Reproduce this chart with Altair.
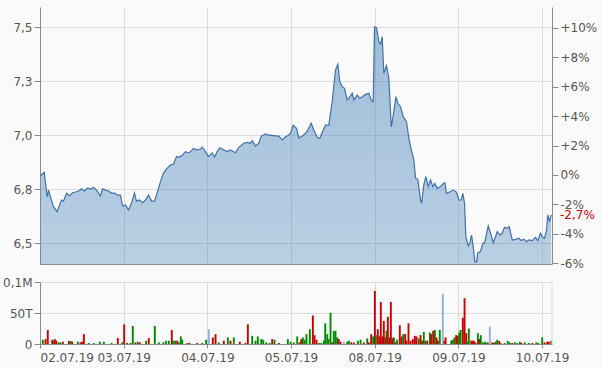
import altair as alt
import pandas as pd

# ---------------- data ----------------
DATES = ["02.07.19", "03.07.19", "04.07.19", "05.07.19", "08.07.19", "09.07.19", "10.07.19"]
REF_PRICE = 6.815  # previous close (0 %)

# intraday time in trading-day units, and price
T = [0.006, 0.018, 0.050, 0.086, 0.102, 0.125, 0.161, 0.206, 0.221, 0.257, 0.281, 0.317, 0.353, 0.388,
     0.424, 0.460, 0.496, 0.532, 0.568, 0.604, 0.639, 0.675, 0.723, 0.747, 0.783, 0.819, 0.855, 0.890,
     0.926, 0.962, 0.986, 1.022, 1.058, 1.094, 1.129, 1.153, 1.189, 1.225, 1.261, 1.297, 1.333, 1.369,
     1.404, 1.440, 1.476, 1.512, 1.560, 1.596, 1.632, 1.667, 1.703, 1.739, 1.775, 1.799, 1.835, 1.871,
     1.918, 1.939, 1.978, 2.014, 2.058, 2.086, 2.118, 2.149, 2.197, 2.237, 2.277, 2.337, 2.376, 2.436,
     2.476, 2.516, 2.536, 2.576, 2.615, 2.644, 2.695, 2.735, 2.794, 2.854, 2.895, 2.934, 2.974, 2.994,
     3.026, 3.066, 3.093, 3.134, 3.173, 3.201, 3.241, 3.272, 3.313, 3.344, 3.373, 3.412, 3.452, 3.492,
     3.532, 3.560, 3.583, 3.612, 3.639, 3.672, 3.703, 3.731, 3.751, 3.791, 3.822, 3.851, 3.891, 3.930,
     3.958, 3.982, 3.998, 4.022, 4.049, 4.070, 4.090, 4.109, 4.141, 4.169, 4.198, 4.229, 4.253, 4.277,
     4.309, 4.341, 4.380, 4.408, 4.437, 4.468, 4.488, 4.515, 4.548, 4.560, 4.587, 4.611, 4.640, 4.667,
     4.695, 4.719, 4.747, 4.787, 4.814, 4.838, 4.858, 4.898, 4.939, 4.978, 5.006, 5.034, 5.053, 5.074,
     5.089, 5.118, 5.137, 5.157, 5.178, 5.197, 5.217, 5.233, 5.265, 5.292, 5.313, 5.333, 5.357, 5.384,
     5.417, 5.444, 5.464, 5.496, 5.524, 5.552, 5.584, 5.608, 5.644, 5.683, 5.723, 5.751, 5.782, 5.815,
     5.842, 5.883, 5.922, 5.950, 5.982, 6.002, 6.030, 6.054, 6.069, 6.090, 6.110]
PRICE = [6.810, 6.815, 6.827, 6.714, 6.745, 6.713, 6.668, 6.645, 6.662, 6.699, 6.694, 6.730, 6.718, 6.733,
         6.736, 6.741, 6.751, 6.741, 6.755, 6.750, 6.758, 6.745, 6.718, 6.751, 6.745, 6.741, 6.731, 6.731,
         6.722, 6.722, 6.671, 6.676, 6.653, 6.685, 6.731, 6.694, 6.699, 6.687, 6.699, 6.722, 6.694, 6.694,
         6.737, 6.784, 6.824, 6.843, 6.861, 6.866, 6.900, 6.898, 6.907, 6.923, 6.917, 6.923, 6.938, 6.931,
         6.935, 6.944, 6.923, 6.900, 6.917, 6.898, 6.923, 6.941, 6.931, 6.923, 6.931, 6.918, 6.943, 6.962,
         6.966, 6.962, 6.974, 6.949, 6.962, 6.995, 7.005, 6.999, 6.997, 6.995, 6.977, 6.992, 7.000, 7.008,
         7.045, 7.031, 6.986, 6.995, 7.008, 7.023, 7.054, 7.023, 6.988, 6.985, 7.013, 7.046, 7.046, 7.154,
         7.301, 7.327, 7.247, 7.224, 7.216, 7.162, 7.177, 7.193, 7.162, 7.185, 7.170, 7.177, 7.188, 7.193,
         7.162, 7.154, 7.501, 7.497, 7.432, 7.420, 7.455, 7.286, 7.321, 7.263, 7.038, 7.108, 7.177, 7.147,
         7.131, 7.085, 7.062, 6.985, 6.931, 6.885, 6.800, 6.795, 6.699, 6.684, 6.769, 6.807, 6.761, 6.792,
         6.761, 6.776, 6.753, 6.761, 6.773, 6.779, 6.730, 6.737, 6.745, 6.736, 6.699, 6.699, 6.730, 6.684,
         6.529, 6.486, 6.499, 6.537, 6.483, 6.413, 6.413, 6.455, 6.460, 6.499, 6.499, 6.537, 6.579, 6.545,
         6.501, 6.529, 6.552, 6.537, 6.545, 6.573, 6.568, 6.575, 6.514, 6.517, 6.522, 6.511, 6.517, 6.506,
         6.514, 6.511, 6.526, 6.511, 6.545, 6.529, 6.522, 6.560, 6.630, 6.599, 6.630]

# volume bars: time, volume (shares), direction (r = down, g = up, b = neutral)
VOL_T = [0.033, 0.066, 0.093, 0.146, 0.165, 0.177, 0.197, 0.225, 0.245, 0.273, 0.344, 0.365, 0.385, 0.452,
         0.484, 0.504, 0.524, 0.583, 0.643, 0.715, 0.763, 0.855, 0.930, 0.982, 1.006, 1.042, 1.082, 1.109,
         1.141, 1.169, 1.193, 1.269, 1.300, 1.372, 1.420, 1.473, 1.504, 1.539, 1.575, 1.592, 1.616, 1.640,
         1.659, 1.683, 1.700, 1.759, 1.787, 1.879, 1.939, 1.986, 2.018, 2.065, 2.098, 2.137, 2.197, 2.245,
         2.277, 2.316, 2.388, 2.456, 2.484, 2.536, 2.576, 2.603, 2.644, 2.668, 2.704, 2.743, 2.775, 2.803,
         2.854, 2.962, 2.994, 3.033, 3.074, 3.102, 3.122, 3.141, 3.161, 3.185, 3.225, 3.261, 3.281, 3.305,
         3.332, 3.361, 3.392, 3.409, 3.433, 3.448, 3.472, 3.492, 3.511, 3.532, 3.552, 3.571, 3.592, 3.631,
         3.672, 3.691, 3.719, 3.751, 3.798, 3.831, 3.870, 3.911, 3.930, 3.958, 3.982, 4.002, 4.014, 4.037,
         4.058, 4.073, 4.094, 4.109, 4.129, 4.141, 4.157, 4.181, 4.193, 4.213, 4.229, 4.249, 4.269, 4.300,
         4.321, 4.341, 4.365, 4.380, 4.404, 4.428, 4.456, 4.480, 4.500, 4.527, 4.548, 4.568, 4.587, 4.607,
         4.628, 4.659, 4.675, 4.699, 4.719, 4.739, 4.755, 4.778, 4.814, 4.835, 4.847, 4.915, 4.934, 4.954,
         4.974, 4.993, 5.010, 5.026, 5.053, 5.074, 5.094, 5.106, 5.125, 5.154, 5.169, 5.185, 5.205, 5.233,
         5.249, 5.268, 5.292, 5.316, 5.337, 5.352, 5.376, 5.405, 5.424, 5.444, 5.464, 5.488, 5.504, 5.552,
         5.591, 5.615, 5.644, 5.675, 5.704, 5.735, 5.755, 5.794, 5.842, 5.883, 5.931, 5.954, 6.002, 6.030,
         6.062, 6.081, 6.110]
VOL = [6900, 7900, 22700, 6900, 5300, 7900, 5300, 2600, 2600, 3700, 4800, 4800, 3700, 3700,
       2600, 3700, 15900, 1600, 1600, 3700, 3700, 1600, 9500, 2600, 31700, 1600, 1600, 29100,
       2600, 3700, 2600, 5300, 9500, 29100, 2600, 2600, 5300, 5300, 22700, 5300, 5300, 5300,
       2600, 12200, 6900, 1600, 1600, 1600, 1600, 6900, 23800, 10600, 15900, 2600, 5300, 10600,
       5300, 10600, 3700, 1600, 31700, 13200, 5300, 12200, 7900, 6900, 2600, 1600, 7900, 6900,
       1600, 7900, 3700, 2600, 12200, 2600, 7900, 10600, 6900, 15900, 23800, 46000, 14300, 6900,
       1600, 1600, 5300, 33300, 15900, 7900, 50300, 2600, 21200, 21200, 10600, 7900, 3700, 3700,
       3700, 5300, 2600, 2600, 5300, 6900, 2600, 9000, 2600, 15900, 12200, 85700, 14300, 23800,
       12200, 67700, 12200, 37000, 10600, 21200, 43900, 10600, 67700, 9500, 10600, 2600, 6900, 30200,
       12200, 15900, 15900, 5300, 33300, 5300, 7900, 13200, 12200, 9000, 14300, 5300, 19600, 5300,
       5300, 18500, 15900, 21200, 22700, 10600, 5300, 22700, 81000, 5300, 10600, 5300, 6900, 10600,
       14300, 13200, 18500, 22700, 42300, 74000, 17500, 3700, 24900, 5300, 5300, 5300, 2600, 17500,
       7900, 14300, 2600, 3700, 1600, 2600, 28000, 2600, 1600, 3700, 6900, 4800, 1600, 1600,
       4800, 2600, 1600, 2600, 1600, 3700, 1600, 2600, 1600, 1600, 2600, 1600, 10600, 2600,
       3700, 3700, 5300]
VOL_DIR = ["g", "r", "r", "r", "g", "r", "r", "g", "g", "r", "r", "g", "r", "g",
           "r", "r", "r", "g", "g", "g", "g", "g", "r", "g", "r", "r", "g", "g",
           "r", "g", "r", "g", "r", "g", "g", "g", "g", "g", "r", "g", "g", "r",
           "g", "g", "g", "g", "r", "r", "g", "g", "b", "r", "r", "g", "r", "g",
           "r", "g", "r", "r", "r", "g", "g", "g", "g", "g", "g", "g", "r", "g",
           "r", "g", "g", "g", "g", "r", "r", "g", "g", "g", "g", "r", "r", "r",
           "g", "g", "g", "g", "g", "g", "g", "r", "g", "g", "g", "r", "r", "b",
           "g", "g", "r", "r", "g", "g", "r", "g", "r", "r", "g", "r", "g", "r",
           "r", "r", "r", "r", "r", "g", "r", "r", "r", "r", "g", "r", "g", "r",
           "r", "g", "r", "r", "r", "r", "r", "r", "r", "g", "r", "r", "g", "g",
           "r", "g", "r", "r", "g", "r", "r", "g", "b", "r", "r", "g", "g", "g",
           "r", "r", "g", "g", "r", "r", "r", "g", "g", "r", "r", "r", "r", "g",
           "r", "g", "g", "g", "r", "g", "b", "r", "r", "g", "g", "r", "r", "g",
           "g", "g", "r", "g", "g", "g", "r", "g", "g", "r", "g", "g", "g", "r",
           "r", "r", "g"]

PRICE_TICKS = [6.5, 6.75, 7.0, 7.25, 7.5]
PCT_TICKS = [-6, -4, -2, 0, 2, 4, 6, 8, 10]
VOL_TICKS = [0, 50000, 100000]
VOL_TICK_LABELS = ["0", "50T", "0,1M"]

# ---------------- styling ----------------
FONT = "DejaVu Sans"
LABEL = "#555555"
AXIS = "#8a8a8a"
GRID = "#dcdcdc"
LINE = "#3f72ab"
RED = "#cc0000"
GREEN = "#008a00"
LIGHTBLUE = "#8fb3d8"
W = 512
H_TOP = 257
H_VOL = 62
XMAX = 6.119
YMIN, YMAX = 6.4028, 7.5926
VOLMAX = 100000

price_df = pd.DataFrame({"t": T, "price": PRICE})
vol_df = pd.DataFrame({"t": VOL_T, "vol": VOL, "dir": VOL_DIR})

last_pct = (PRICE[-1] / REF_PRICE - 1) * 100
label = ("+" if last_pct > 0 else "-") + f"{abs(last_pct):.2f}"[:-1].replace(".", ",") + "%"
marker_df = pd.DataFrame({"pct": [last_pct], "label": [label]})

PMIN = (YMIN / REF_PRICE - 1) * 100
PMAX = (YMAX / REF_PRICE - 1) * 100

xscale = alt.Scale(domain=[0, XMAX], nice=False, zero=False)
day_values = list(range(len(DATES)))
date_expr = "[" + ",".join(f"'{d}'" for d in DATES) + "][datum.value]"

gradient = alt.Gradient(
    gradient="linear",
    stops=[alt.GradientStop(color="rgba(70,130,186,0.50)", offset=0),
           alt.GradientStop(color="rgba(70,130,186,0.36)", offset=1)],
    x1=1, x2=1, y1=0, y2=1,
)

area = alt.Chart(price_df).mark_area(
    color=gradient,
    opacity=1,
    line=alt.OverlayMarkDef(color=LINE, strokeWidth=1.2),
).encode(
    x=alt.X("t:Q", scale=xscale,
            axis=alt.Axis(values=day_values, labels=False, ticks=False, grid=True, title=None,
                          domainColor=AXIS)),
    y=alt.Y("price:Q", scale=alt.Scale(domain=[YMIN, YMAX], nice=False, zero=False),
            axis=alt.Axis(values=PRICE_TICKS, title=None, orient="left",
                          labelExpr="replace(format(datum.value, '.1f'), '.', ',')")),
    y2=alt.datum(YMIN),
)

pct_text = alt.Chart(marker_df).mark_text(
    align="left", baseline="middle", color=RED, font=FONT, fontSize=12
).encode(
    x=alt.value(W + 8),
    y=alt.Y("pct:Q", scale=alt.Scale(domain=[PMIN, PMAX], nice=False, zero=False),
            axis=alt.Axis(orient="right", values=PCT_TICKS, title=None, grid=False,
                          labelExpr="(datum.value > 0 ? '+' : '') + datum.value + '%'")),
    text="label:N",
)

top = alt.layer(area, pct_text).resolve_scale(y="independent").properties(width=W, height=H_TOP)

bars = alt.Chart(vol_df).mark_rule(strokeWidth=1.9).encode(
    x=alt.X("t:Q", scale=xscale,
            axis=alt.Axis(values=day_values, labelExpr=date_expr, grid=True, title=None,
                          tickSize=4, labelPadding=4, labelFontSize=12)),
    y=alt.Y("vol:Q", scale=alt.Scale(domain=[0, VOLMAX], nice=False),
            axis=alt.Axis(values=VOL_TICKS, title=None,
                          labelExpr="[" + ",".join(f"'{s}'" for s in VOL_TICK_LABELS) + "][indexof(["
                          + ",".join(str(v) for v in VOL_TICKS) + "], datum.value)]")),
    y2=alt.datum(0),
    color=alt.Color("dir:N", scale=alt.Scale(domain=["r", "g", "b"], range=[RED, GREEN, LIGHTBLUE]),
                    legend=None),
)
border = alt.Chart(pd.DataFrame({"t": [XMAX]})).mark_rule(color=GRID, strokeWidth=1).encode(x="t:Q")
vol = alt.layer(bars, border).properties(width=W, height=H_VOL)

chart = alt.vconcat(top, vol, spacing=6).properties(
    background="#fafafa",
    padding={"left": 2, "top": 7, "right": 5, "bottom": 5},
).configure_view(stroke=None).configure_axis(
    labelFont=FONT, labelFontSize=12, labelColor=LABEL, domainColor=AXIS, tickColor=AXIS,
    gridColor=GRID, tickSize=6, labelPadding=2, domainWidth=1, gridWidth=1,
)

chart.save("out.html", embed_options={"renderer": "svg", "actions": False})
